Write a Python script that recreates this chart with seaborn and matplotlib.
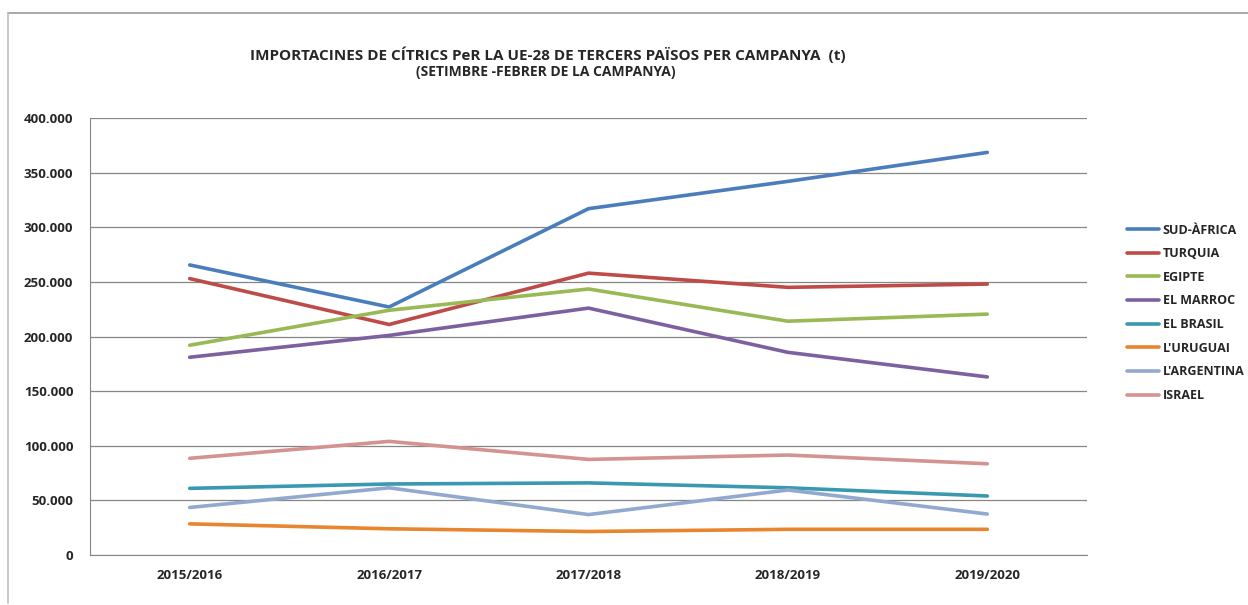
import matplotlib
matplotlib.use("Agg")
import matplotlib.pyplot as plt
import seaborn as sns
import pandas as pd
from matplotlib.ticker import FuncFormatter, FixedLocator
from matplotlib.lines import Line2D

campaigns = ["2015/2016", "2016/2017", "2017/2018", "2018/2019", "2019/2020"]
sud_africa = [265500, 227000, 317000, 342000, 368500]
turquia = [253000, 211000, 258000, 245000, 248000]
egipte = [192000, 224000, 243500, 214000, 220500]
el_marroc = [181000, 201000, 226000, 185500, 163000]
el_brasil = [61000, 65000, 66000, 61500, 54000]
uruguai = [28500, 24000, 21500, 23500, 23500]
argentina = [43500, 61500, 37000, 59500, 37500]
israel = [88500, 104000, 87500, 91500, 83500]

series_names = ["SUD-ÀFRICA", "TURQUIA", "EGIPTE", "EL MARROC", "EL BRASIL",
                "L'URUGUAI", "L'ARGENTINA", "ISRAEL"]
series_vals = [sud_africa, turquia, egipte, el_marroc, el_brasil, uruguai, argentina, israel]
colors = ["#4A7EBB", "#BE4B48", "#98B954", "#7D60A0", "#3A98B0",
          "#E8852F", "#92A9CF", "#D49391"]

rows = []
for name, vals in zip(series_names, series_vals):
    for i, v in enumerate(vals):
        rows.append({"idx": i, "value": v, "pais": name})
df = pd.DataFrame(rows)

sns.set_style("white")
plt.rcParams["font.family"] = ["Open Sans", "DejaVu Sans"]
plt.rcParams["font.weight"] = "bold"

fig = plt.figure(figsize=(12.48, 6.05), dpi=100)
ax = fig.add_axes([90/1248, 50/605, (1087-90)/1248, (555-118)/605])

sns.lineplot(data=df, x="idx", y="value", hue="pais", hue_order=series_names,
             palette=colors, linewidth=2.6, ax=ax, legend=True, sort=False)

ax.set_xlim(-0.5, 4.5)
ax.set_ylim(0, 400000)
ax.set_yticks(range(0, 400001, 50000))
ax.yaxis.set_major_formatter(FuncFormatter(lambda v, p: f"{int(v):,}".replace(",", ".")))
ax.set_xticks(range(len(campaigns)))
ax.set_xticklabels(campaigns)
ax.xaxis.set_minor_locator(FixedLocator([-0.5, 0.5, 1.5, 2.5, 3.5, 4.5]))
ax.tick_params(axis="x", which="major", length=0, pad=10, labelsize=9.5)
ax.tick_params(axis="x", which="minor", length=6, color="#868686", direction="out")
ax.tick_params(axis="y", which="major", length=5, color="#868686", direction="out", labelsize=9.5, pad=7)
for lab in ax.get_xticklabels() + ax.get_yticklabels():
    lab.set_fontweight("bold")
ax.grid(axis="y", color="#868686", linewidth=0.9)
ax.set_axisbelow(True)
for s in ["top", "right"]:
    ax.spines[s].set_visible(False)
ax.spines["left"].set_color("#868686")
ax.spines["bottom"].set_color("#868686")
ax.set_xlabel("")
ax.set_ylabel("")

handles, labels = ax.get_legend_handles_labels()
ax.legend(handles, labels, loc="upper left", bbox_to_anchor=(1124/1248, (605-221)/605),
          bbox_transform=fig.transFigure, frameon=False, borderaxespad=0, borderpad=0.2,
          handlelength=2.6, labelspacing=0.85, handletextpad=0.3,
          prop={"family": ["Open Sans", "DejaVu Sans"], "weight": "bold", "size": 9.0})

fig.text(548/1248, 1 - 55/605, "IMPORTACINES DE CÍTRICS PeR LA UE-28 DE TERCERS PAÏSOS PER CAMPANYA  (t)",
         ha="center", va="center", fontsize=11, fontweight="bold")
fig.text(546/1248, 1 - 72/605, "(SETIMBRE -FEBRER DE LA CAMPANYA)",
         ha="center", va="center", fontsize=10, fontweight="bold")

# chart-area frame: top and left edges only
fig.add_artist(Line2D([8/1248, 1.0], [1 - 13/605, 1 - 13/605], transform=fig.transFigure,
                      color="#9A9A9A", linewidth=1.2))
fig.add_artist(Line2D([8/1248, 8/1248], [1 - 13/605, 2/605], transform=fig.transFigure,
                      color="#BFBFBF", linewidth=1.2))

fig.savefig("out.png", dpi=100)
